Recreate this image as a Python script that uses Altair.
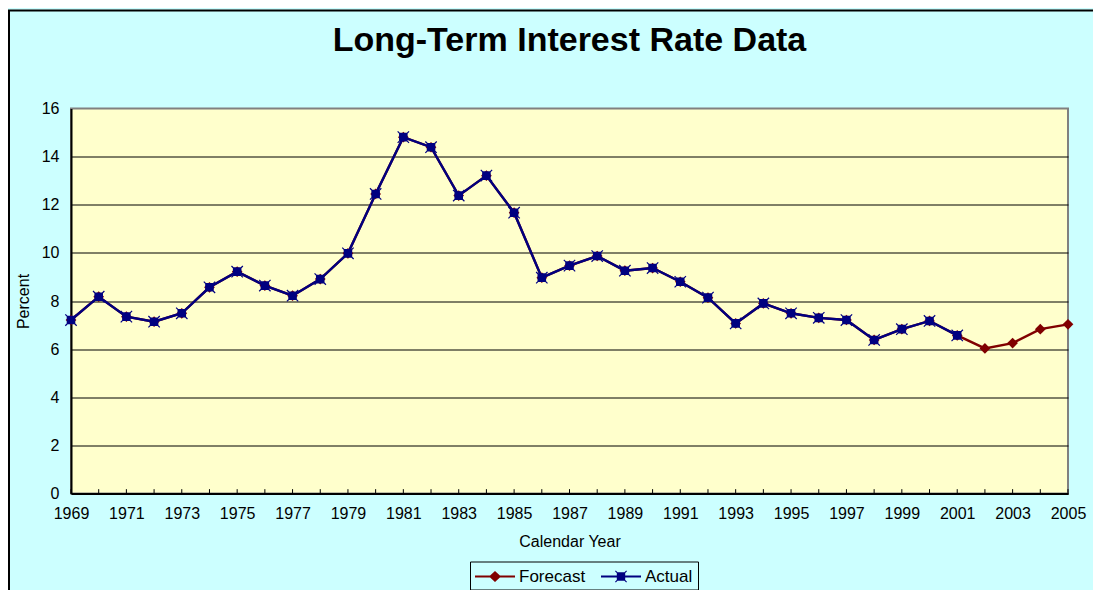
import altair as alt
import pandas as pd

FONT = "Liberation Sans, Arial, sans-serif"

# ---- data ----
actual_years = list(range(1969, 2002))
actual = [7.21, 8.18, 7.35, 7.14, 7.49, 8.57, 9.22, 8.64, 8.22, 8.91, 9.98,
          12.45, 14.81, 14.39, 12.38, 13.21, 11.67, 8.97, 9.47, 9.87, 9.26,
          9.37, 8.80, 8.14, 7.07, 7.90, 7.49, 7.30, 7.21, 6.38, 6.83, 7.17, 6.57]
forecast_years = list(range(1969, 2006))
forecast_tail = [6.03, 6.25, 6.83, 7.03]
forecast = actual + forecast_tail
tick_years = list(range(1969, 2006))
label_years = list(range(1969, 2006, 2))
series_names = ["Forecast", "Actual"]
series_colors = ["#800000", "#000080"]

df_a = pd.DataFrame({"year": actual_years, "value": actual, "series": "Actual"})
df_f = pd.DataFrame({"year": forecast_years, "value": forecast, "series": "Forecast"})
df_t = pd.DataFrame({"year": tick_years})

# marker / legend symbol paths
ACTUAL_MARK = ("M-0.7,-0.7H0.7V0.7H-0.7Z "
               "M-1,-0.86L-0.86,-1L1,0.86L0.86,1Z "
               "M0.86,-1L1,-0.86L-0.86,1L-1,0.86Z")
LEG_F = "M-2,-0.1H2V0.1H-2Z M0,-0.55L0.6,0L0,0.55L-0.6,0Z"
LEG_A = ("M-2,-0.1H2V0.1H-2Z M-0.42,-0.42H0.42V0.42H-0.42Z "
         "M-0.6,-0.52L-0.52,-0.6L0.6,0.52L0.52,0.6Z "
         "M0.52,-0.6L0.6,-0.52L-0.52,0.6L-0.6,0.52Z")

x_axis = alt.Axis(values=label_years, format="d", tickSize=0, labelPadding=12,
                  domainColor="black", domainWidth=2, grid=False,
                  labelFont=FONT, labelFontSize=16, labelColor="black",
                  labelFlush=False, labelOverlap=False,
                  titleFont=FONT, titleFontSize=16, titleFontWeight="normal",
                  titleColor="black", titlePadding=12)
y_axis = alt.Axis(values=list(range(0, 17, 2)), tickSize=0, labelPadding=12,
                  domainColor="black", domainWidth=2, grid=True,
                  gridColor={"condition": {"test": "datum.value === 16", "value": "transparent"},
                             "value": "black"},
                  gridWidth=1, gridOpacity=1,
                  labelFont=FONT, labelFontSize=16, labelColor="black",
                  labelFlush=False,
                  titleFont=FONT, titleFontSize=16, titleFontWeight="normal",
                  titleColor="black", titlePadding=10)

x_scale = alt.Scale(domain=[1969, 2005], nice=False, zero=False)
x_enc = alt.X("year:Q", scale=x_scale, axis=x_axis, title="Calendar Year")
y_enc = alt.Y("value:Q", scale=alt.Scale(domain=[0, 16], nice=False),
              axis=y_axis, title="Percent")

f_line = alt.Chart(df_f).mark_line(color="#800000", strokeWidth=2.4).encode(x=x_enc, y=y_enc)
f_pts = alt.Chart(df_f).mark_point(shape="diamond", filled=True, color="#800000",
                                   size=115, opacity=1).encode(x=x_enc, y=y_enc)
a_line = alt.Chart(df_a).mark_line(color="#000080", strokeWidth=2.4).encode(x=x_enc, y=y_enc)
a_pts = alt.Chart(df_a).mark_point(shape=ACTUAL_MARK, filled=True, color="#000080",
                                   size=150, opacity=1).encode(x=x_enc, y=y_enc)

ticks = alt.Chart(df_t).mark_rule(color="black", strokeWidth=1).encode(
    x=alt.X("year:Q", scale=x_scale, axis=x_axis, title="Calendar Year"),
    y=alt.datum(0), y2=alt.datum(0.18))

leg_props = dict(orient="none", legendX=399, legendY=453, direction="horizontal",
                 title=None, strokeColor="black", fillColor="#CCFFFF", padding=5,
                 labelFont=FONT, labelFontSize=17, labelColor="black",
                 labelOffset=14, symbolOffset=10, symbolSize=400,
                 symbolStrokeWidth=0, columnPadding=15, symbolOpacity=1)

legend_layer = alt.Chart(df_f).transform_filter("false").mark_point(
    filled=True, opacity=1).encode(
    color=alt.Color("series:N", scale=alt.Scale(domain=series_names, range=series_colors),
                    legend=alt.Legend(**leg_props)),
    shape=alt.Shape("series:N", scale=alt.Scale(domain=series_names, range=[LEG_F, LEG_A]),
                    legend=alt.Legend(**leg_props)))

frame = alt.Chart(alt.Data(values=[{"k": 1}])).mark_rect(
    fillOpacity=0, stroke="black", strokeWidth=2).encode(
    x=alt.value(-62), x2=alt.value(1040), y=alt.value(-98), y2=alt.value(520))

chart = alt.layer(frame, ticks, f_line, f_pts, a_line, a_pts, legend_layer).properties(
    width=997, height=385,
    padding={"left": 63, "top": 100.5, "right": 25, "bottom": 96.5},
    autosize=alt.AutoSizeParams(type="none"),
    view=alt.ViewBackground(fill="#FFFFCC", stroke="#808080", strokeWidth=2),
    title=alt.Title("Long-Term Interest Rate Data", font=FONT, fontSize=34,
                    fontWeight="bold", color="black", anchor="middle", offset=-48),
).configure(background="#CCFFFF").configure_view(
    fill="#FFFFCC", stroke="#808080", strokeWidth=2)

chart.save("out.html", embed_options={"renderer": "svg", "actions": False})
